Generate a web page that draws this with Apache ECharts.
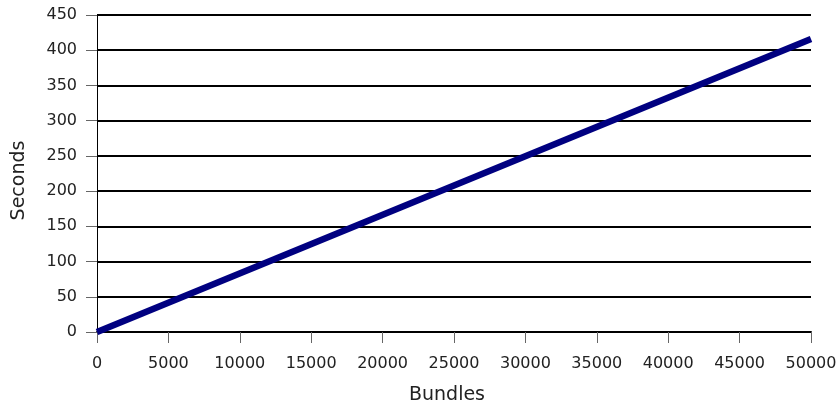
<!DOCTYPE html>
<html><head><meta charset="utf-8">
<script src="https://cdn.jsdelivr.net/npm/echarts@6/dist/echarts.min.js"></script>
<style>html,body{margin:0;padding:0;background:#fff}#c{width:839px;height:402px}</style>
</head><body><div id="c"></div>
<script>
const bundles = [0, 50000];
const seconds = [0, 416];
const xTicks = {min: 0, max: 50000, interval: 5000};
const yTicks = {min: 0, max: 450, interval: 50};
const xName = 'Bundles';
const yName = 'Seconds';

const chart = echarts.init(document.getElementById('c'), null, {renderer: 'canvas'});
const font = 'DejaVu Sans';
chart.setOption({
  animation: false,
  grid: {left: 97, right: 28, top: 15, bottom: 70, containLabel: false, outerBoundsMode: 'none'},
  xAxis: {
    type: 'value', min: xTicks.min, max: xTicks.max, interval: xTicks.interval,
    name: xName, nameLocation: 'middle', nameGap: 54,
    nameTextStyle: {fontFamily: font, fontSize: 19, color: '#222', padding: [0, 14, 0, 0]},
    axisLine: {show: true, lineStyle: {color: '#000', width: 2}},
    axisTick: {show: true, length: 11, lineStyle: {color: '#666', width: 1}},
    axisLabel: {fontFamily: font, fontSize: 16, color: '#222', margin: 24, formatter: v => String(v), showMaxLabel: true, hideOverlap: false},
    splitLine: {show: false}
  },
  yAxis: {
    type: 'value', min: yTicks.min, max: yTicks.max, interval: yTicks.interval,
    name: yName, nameLocation: 'middle', nameGap: 68, nameRotate: 90,
    nameTextStyle: {fontFamily: font, fontSize: 19, color: '#222', padding: [0, 14, 0, 0]},
    axisLine: {show: true, lineStyle: {color: '#000', width: 1}},
    axisTick: {show: true, length: 11, lineStyle: {color: '#666', width: 1}},
    axisLabel: {fontFamily: font, fontSize: 16, color: '#222', margin: 20, padding: [3, 0, 0, 0], formatter: v => String(v)},
    splitLine: {show: true, lineStyle: {color: '#000', width: 2}}
  },
  series: [{
    type: 'line',
    data: bundles.map((b, i) => [b, seconds[i]]),
    symbol: 'none',
    lineStyle: {color: '#000080', width: 6.5, cap: 'butt'}
  }]
});
</script></body></html>
